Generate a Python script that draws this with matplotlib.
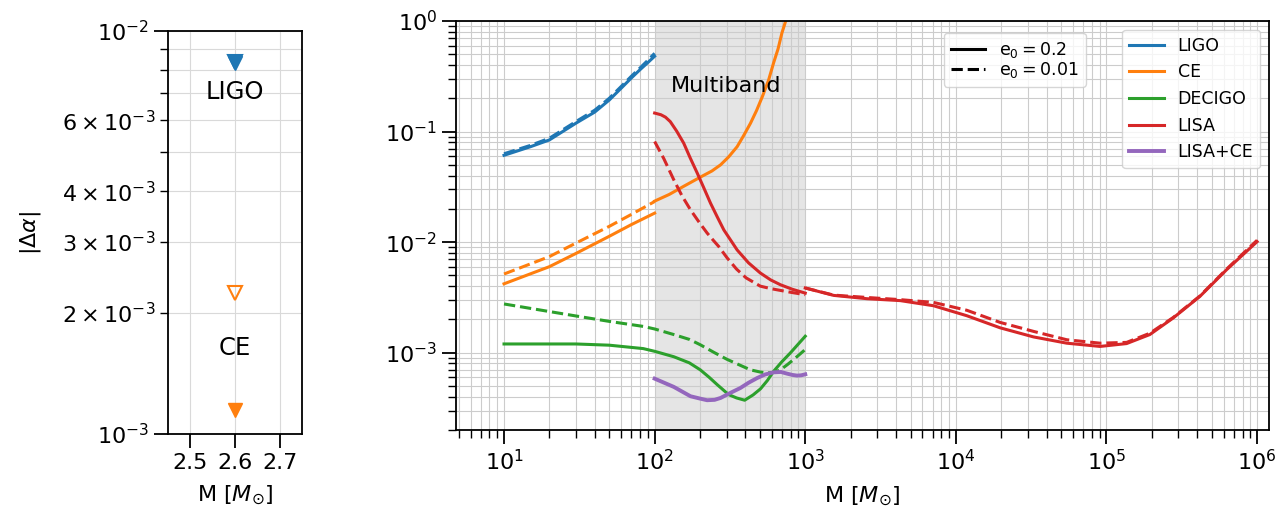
import numpy as np
import matplotlib
matplotlib.use('Agg')
import matplotlib.pyplot as plt
from matplotlib.lines import Line2D

# ---- data ----
# left panel: single low mass point
ns_mass = 2.6
ligo_ns_e02 = 8.33e-3
ligo_ns_e001 = 8.40e-3
ce_ns_e02 = 1.15e-3
ce_ns_e001 = 2.24e-3

# right panel
ligo_m = [10, 15, 20, 30, 40, 50, 60, 70, 80, 90, 100]
ligo_e02 = [0.061, 0.073, 0.084, 0.119, 0.150, 0.193, 0.247, 0.305, 0.363, 0.42, 0.48]
ligo_e001 = [0.063, 0.075, 0.087, 0.123, 0.156, 0.200, 0.256, 0.316, 0.376, 0.44, 0.51]

ce_m_low = [10, 20, 30, 50, 70, 100]
ce_e02 = [4.2e-3, 6.0e-3, 7.9e-3, 11.3e-3, 14.4e-3, 18.3e-3]
ce_e001 = [5.15e-3, 7.4e-3, 9.8e-3, 13.9e-3, 17.8e-3, 23.3e-3]
ce_m_high = [100, 125, 156, 201, 240, 274, 310, 353, 390, 433, 475, 519, 570, 617, 660, 700, 750, 800]
ce_high = [0.0235, 0.027, 0.032, 0.0387, 0.044, 0.050, 0.059, 0.073, 0.092, 0.119, 0.155,
           0.207, 0.29, 0.42, 0.56, 0.78, 1.05, 1.4]

dec_m = [10, 20, 30, 50, 84, 100, 134, 170, 201, 230, 260, 310, 350, 396, 450, 504, 560, 617, 700, 796, 1000]
dec_e02 = [1.2e-3, 1.2e-3, 1.2e-3, 1.17e-3, 1.09e-3, 1.03e-3, 9.2e-4, 8.1e-4, 7.0e-4, 6.0e-4,
           5.15e-4, 4.18e-4, 3.9e-4, 3.72e-4, 4.15e-4, 4.71e-4, 5.6e-4, 6.8e-4, 8.3e-4, 9.95e-4, 1.41e-3]
dec_m_d = [10, 17.5, 30, 50, 84, 100, 134, 170, 201, 250, 303, 370, 433, 500, 558, 620, 684, 760, 837, 1000]
dec_e001 = [2.76e-3, 2.43e-3, 2.15e-3, 1.92e-3, 1.73e-3, 1.64e-3, 1.46e-3, 1.32e-3, 1.18e-3,
            1.0e-3, 8.7e-4, 7.7e-4, 7.0e-4, 6.7e-4, 6.56e-4, 6.65e-4, 7.0e-4, 7.8e-4, 8.67e-4, 1.07e-3]

lisa_low_m = [100, 110, 118, 127, 140, 156, 172, 192, 212, 235, 260, 288, 320, 353, 420, 503, 590, 684, 820, 1000]
lisa_low_e02 = [0.147, 0.142, 0.135, 0.123, 0.101, 0.0785, 0.058, 0.042, 0.031, 0.0225, 0.017,
                0.0129, 0.0104, 8.5e-3, 6.5e-3, 5.26e-3, 4.55e-3, 4.12e-3, 3.75e-3, 3.46e-3]
lisa_low_m_d = [100, 115, 134, 152, 173, 197, 223, 245, 267, 303, 350, 405, 503, 590, 684, 820, 1000]
lisa_low_e001 = [0.0813, 0.057, 0.0366, 0.0262, 0.0196, 0.0152, 0.0121, 0.0104, 9.1e-3, 7.2e-3,
                 5.7e-3, 4.75e-3, 4.0e-3, 3.8e-3, 3.66e-3, 3.5e-3, 3.35e-3]

lisa_hi_m = [1000, 1543, 2570, 4275, 7110, 11830, 19680, 32750, 54500, 90600,
             136000, 194000, 277000, 417000, 627000, 1000000]
lisa_hi_e02 = [3.85e-3, 3.3e-3, 3.08e-3, 2.96e-3, 2.66e-3, 2.16e-3, 1.68e-3, 1.39e-3,
               1.22e-3, 1.14e-3, 1.21e-3, 1.46e-3, 2.06e-3, 3.23e-3, 5.63e-3, 0.0101]
lisa_hi_e001 = [3.85e-3, 3.32e-3, 3.16e-3, 3.02e-3, 2.85e-3, 2.42e-3, 1.88e-3, 1.56e-3,
                1.31e-3, 1.22e-3, 1.24e-3, 1.5e-3, 2.08e-3, 3.26e-3, 5.7e-3, 0.0104]

lc_m = [100, 134, 173, 200, 223, 250, 274, 320, 371, 420, 479, 540, 617, 690, 757, 820, 883, 940, 1000]
lc_val = [5.83e-4, 4.91e-4, 4.04e-4, 3.85e-4, 3.72e-4, 3.75e-4, 3.9e-4, 4.35e-4, 4.8e-4, 5.35e-4,
          5.9e-4, 6.35e-4, 6.65e-4, 6.7e-4, 6.47e-4, 6.3e-4, 6.21e-4, 6.25e-4, 6.38e-4]

multiband = (100, 1000)

C = {'LIGO': '#1f77b4', 'CE': '#ff7f0e', 'DECIGO': '#2ca02c', 'LISA': '#d62728', 'LISA+CE': '#9467bd'}

plt.rcParams['axes.linewidth'] = 1.3
plt.rcParams['xtick.major.size'] = 10
plt.rcParams['ytick.major.size'] = 10
plt.rcParams['xtick.minor.size'] = 5.5
plt.rcParams['ytick.minor.size'] = 5.5
plt.rcParams['xtick.major.width'] = 1.3
plt.rcParams['ytick.major.width'] = 1.3
plt.rcParams['xtick.minor.width'] = 1.0
plt.rcParams['ytick.minor.width'] = 1.0

fig = plt.figure(figsize=(12.86, 5.08), dpi=100)
ax1 = fig.add_axes([0.1306, 0.1457, 0.1042, 0.7933])
ax2 = fig.add_axes([0.3546, 0.1535, 0.6322, 0.8052])

lw = 2.2

# ---- left panel ----
ax1.plot(ns_mass, ligo_ns_e001, 'v', ms=10, mfc='none', mec=C['LIGO'], mew=1.5)
ax1.plot(ns_mass, ligo_ns_e02, 'v', ms=10, color=C['LIGO'])
ax1.plot(ns_mass, ce_ns_e001, 'v', ms=10, mfc='none', mec=C['CE'], mew=1.5)
ax1.plot(ns_mass, ce_ns_e02, 'v', ms=10, color=C['CE'])
ax1.text(ns_mass, 7.06e-3, 'LIGO', ha='center', va='center', fontsize=17.5)
ax1.text(ns_mass, 1.63e-3, 'CE', ha='center', va='center', fontsize=17.5)
ax1.set_yscale('log')
ax1.set_ylim(1e-3, 1e-2)
ax1.set_xlim(2.45, 2.75)
ax1.set_xticks([2.5, 2.6, 2.7])
ax1.grid(True, which='both', color='0.85', lw=0.8)
ax1.set_axisbelow(True)
ax1.tick_params(which='both', labelsize=16)
ax1.set_xlabel(r'M [$M_{\odot}$]', fontsize=16, labelpad=8)
ax1.set_ylabel(r'$|\Delta\alpha|$', fontsize=16, labelpad=14)

# ---- right panel ----
ax2.axvspan(multiband[0], multiband[1], color='gray', alpha=0.2, lw=0, zorder=0.5)
ax2.text(300, 0.26, 'Multiband', ha='center', va='center', fontsize=16)

ax2.plot(ligo_m, ligo_e02, color=C['LIGO'], lw=lw, label='LIGO')
ax2.plot(ligo_m, ligo_e001, color=C['LIGO'], lw=lw, ls='--')

ax2.plot(ce_m_low, ce_e02, color=C['CE'], lw=lw, label='CE')
ax2.plot(ce_m_low, ce_e001, color=C['CE'], lw=lw, ls='--')
ax2.plot(ce_m_high, ce_high, color=C['CE'], lw=lw)

ax2.plot(dec_m, dec_e02, color=C['DECIGO'], lw=lw, label='DECIGO')
ax2.plot(dec_m_d, dec_e001, color=C['DECIGO'], lw=lw, ls='--')

ax2.plot(lisa_low_m, lisa_low_e02, color=C['LISA'], lw=lw, label='LISA')
ax2.plot(lisa_low_m_d, lisa_low_e001, color=C['LISA'], lw=lw, ls='--')
ax2.plot(lisa_hi_m, lisa_hi_e02, color=C['LISA'], lw=lw)
ax2.plot(lisa_hi_m, lisa_hi_e001, color=C['LISA'], lw=lw, ls='--')

ax2.plot(lc_m, lc_val, color=C['LISA+CE'], lw=2.8, label='LISA+CE')

ax2.set_xscale('log')
ax2.set_yscale('log')
ax2.set_xlim(4.8, 1.2e6)
ax2.set_ylim(2e-4, 1)
ax2.grid(True, which='both', color='0.8', lw=0.8)
ax2.set_axisbelow(True)
ax2.tick_params(labelsize=16)
ax2.set_xlabel(r'M [$M_{\odot}$]', fontsize=16, labelpad=8)

leg1 = ax2.legend(loc='upper right', fontsize=12.5)
style_handles = [Line2D([], [], color='k', lw=lw, ls='-'),
                 Line2D([], [], color='k', lw=lw, ls='--')]
leg2 = ax2.legend(style_handles, [r'$\mathrm{e}_0 = 0.2$', r'$\mathrm{e}_0 = 0.01$'],
                  loc='upper left', bbox_to_anchor=(0.6, 0.971), borderaxespad=0,
                  fontsize=12.5, labelspacing=0.0)
ax2.add_artist(leg1)

fig.savefig('out.png', dpi=100)
